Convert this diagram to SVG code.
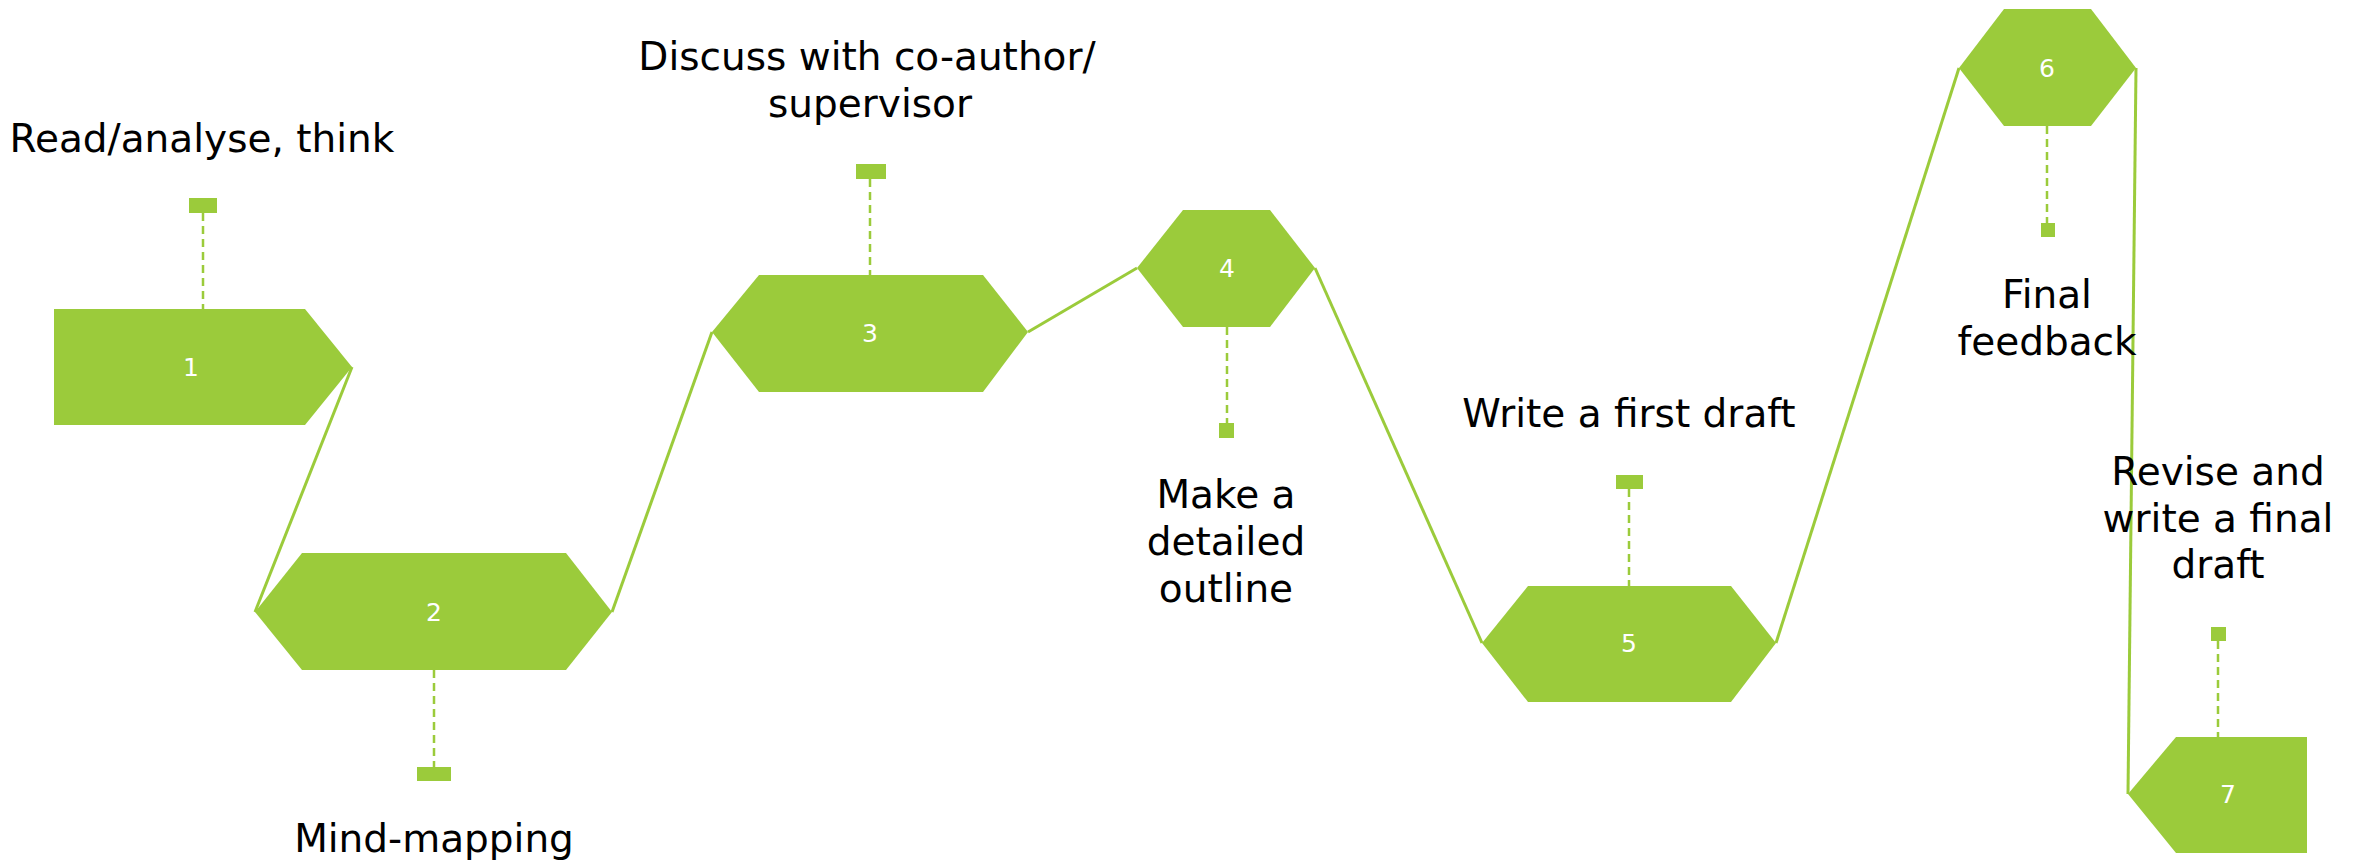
<svg xmlns="http://www.w3.org/2000/svg" width="2361" height="860" viewBox="0 0 2361 860">
<style>
.shape{fill:#9BCB3B}
.num{font-family:"DejaVu Sans","Liberation Sans",sans-serif;font-size:25px;fill:#FFFFFF;text-anchor:middle}
.lbl{font-family:"DejaVu Sans","Liberation Sans",sans-serif;font-size:39px;fill:#000000;text-anchor:middle}
.dash{stroke:#9BCB3B;stroke-width:2.5;stroke-dasharray:8,5;fill:none}
.conn{stroke:#9BCB3B;stroke-width:3;fill:none}
</style>
<rect width="2361" height="860" fill="#FFFFFF"/>
<g id="connectors">
<line class="conn" x1="352" y1="367" x2="255" y2="612"/>
<line class="conn" x1="612" y1="612" x2="712" y2="332"/>
<line class="conn" x1="1028" y1="332" x2="1137" y2="268"/>
<line class="conn" x1="1315" y1="268" x2="1482" y2="643"/>
<line class="conn" x1="1776" y1="643" x2="1959" y2="68"/>
<line class="conn" x1="2136" y1="68" x2="2128" y2="794"/>
</g>
<g id="node1">
<line class="dash" x1="203" y1="213" x2="203" y2="309"/>
<rect class="shape" x="189" y="198" width="28" height="15"/>
<polygon class="shape" points="54,309 305,309 352,367 305,425 54,425"/>
<text class="num" x="191" y="376">1</text>
<text class="lbl" x="202" y="152">Read/analyse, think</text>
</g>
<g id="node2">
<line class="dash" x1="434" y1="670" x2="434" y2="767"/>
<rect class="shape" x="417" y="767" width="34" height="14"/>
<polygon class="shape" points="255,612 302,553 566,553 612,612 566,670 302,670"/>
<text class="num" x="434" y="621">2</text>
<text class="lbl" x="434" y="852">Mind-mapping</text>
</g>
<g id="node3">
<line class="dash" x1="870" y1="179" x2="870" y2="275"/>
<rect class="shape" x="856" y="164" width="30" height="15"/>
<polygon class="shape" points="712,332 759,275 983,275 1028,332 983,392 759,392"/>
<text class="num" x="870" y="342">3</text>
<text class="lbl" x="867" y="70">Discuss with co-author/</text>
<text class="lbl" x="870" y="117">supervisor</text>
</g>
<g id="node4">
<line class="dash" x1="1227" y1="327" x2="1227" y2="423"/>
<rect class="shape" x="1219" y="423" width="15" height="15"/>
<polygon class="shape" points="1137,268 1183,210 1270,210 1315,268 1270,327 1183,327"/>
<text class="num" x="1227" y="277">4</text>
<text class="lbl" x="1226" y="508">Make a</text>
<text class="lbl" x="1226" y="555">detailed</text>
<text class="lbl" x="1226" y="602">outline</text>
</g>
<g id="node5">
<line class="dash" x1="1629" y1="489" x2="1629" y2="586"/>
<rect class="shape" x="1616" y="475" width="27" height="14"/>
<polygon class="shape" points="1482,643 1528,586 1731,586 1776,643 1731,702 1528,702"/>
<text class="num" x="1629" y="652">5</text>
<text class="lbl" x="1629" y="427">Write a first draft</text>
</g>
<g id="node6">
<line class="dash" x1="2047" y1="126" x2="2047" y2="223"/>
<rect class="shape" x="2041" y="223" width="14" height="14"/>
<polygon class="shape" points="1959,68 2004,9 2091,9 2136,68 2091,126 2004,126"/>
<text class="num" x="2047" y="77">6</text>
<text class="lbl" x="2047" y="308">Final</text>
<text class="lbl" x="2047" y="355">feedback</text>
</g>
<g id="node7">
<line class="dash" x1="2218" y1="641" x2="2218" y2="737"/>
<rect class="shape" x="2211" y="627" width="15" height="14"/>
<polygon class="shape" points="2128,794 2176,737 2307,737 2307,853 2176,853"/>
<text class="num" x="2228" y="803">7</text>
<text class="lbl" x="2218" y="485">Revise and</text>
<text class="lbl" x="2218" y="532">write a final</text>
<text class="lbl" x="2218" y="578">draft</text>
</g>
</svg>
